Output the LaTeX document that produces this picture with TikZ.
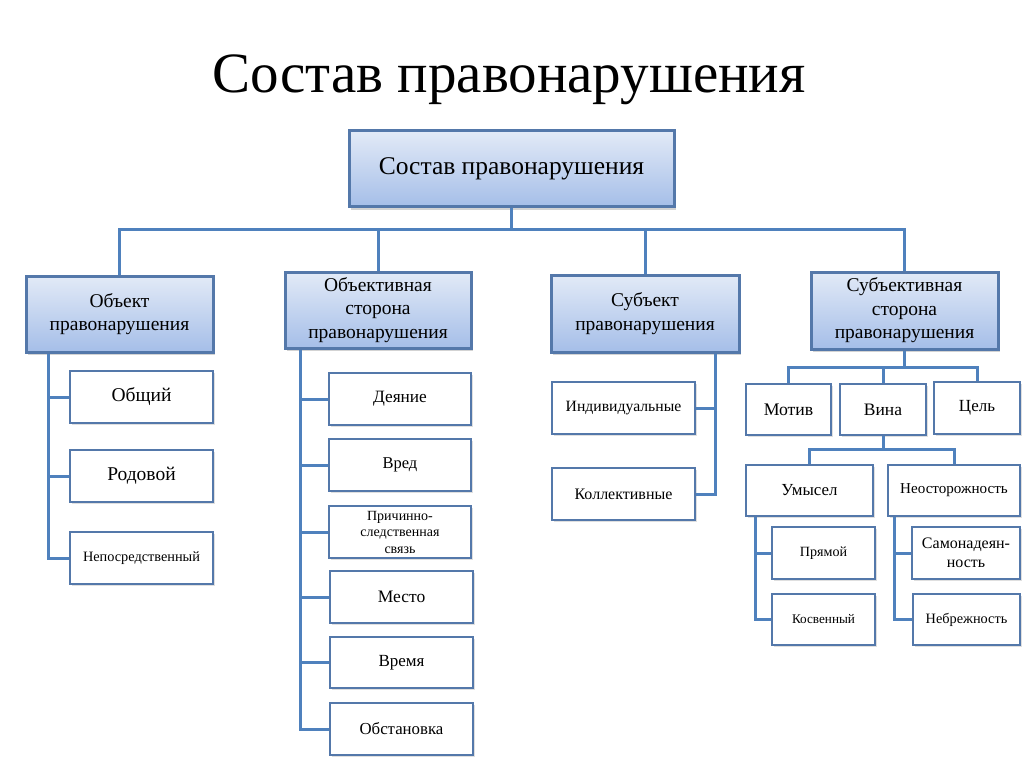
\documentclass[tikz,border=0pt]{standalone}
\usepackage{fontspec}
\setmainfont{Liberation Serif}
\usetikzlibrary{shadows,calc}
\definecolor{lineblue}{RGB}{79,129,189}
\definecolor{boxborder}{RGB}{84,120,170}
\definecolor{gtop}{RGB}{226,234,247}
\definecolor{gbot}{RGB}{165,190,232}
\begin{document}
\begin{tikzpicture}[x=1pt,y=-1pt,
  conn/.style={draw=lineblue,line width=3pt},
  lvlbox/.style={draw=boxborder,line width=3pt,top color=gtop,bottom color=gbot,
    align=center,inner sep=2pt,font=\fontsize{19.5}{23.5}\selectfont,
    drop shadow={opacity=0.35,shadow xshift=2pt,shadow yshift=-3pt}},
  leaf/.style={draw=boxborder,line width=2.5pt,fill=white,align=center,inner sep=2pt,
    drop shadow={opacity=0.25,shadow xshift=2pt,shadow yshift=-2pt}},
]
\useasboundingbox (0,0) rectangle (1024,767);
% title
\node[font=\fontsize{57}{60}\selectfont] (title) at (509,80) {Состав правонарушения};
% root
\node[lvlbox,minimum width=325,minimum height=76,font=\fontsize{25.5}{28}\selectfont] (root) at (511.5,169) {Состав правонарушения};
% level 1
\node[lvlbox,minimum width=187,minimum height=76] (obj) at (119.5,314) {Объект\\правонарушения};
\node[lvlbox,minimum width=186,minimum height=76] (oside) at (378,310) {Объективная\\сторона\\правонарушения};
\node[lvlbox,minimum width=188,minimum height=77] (subj) at (645,313.5) {Субъект\\правонарушения};
\node[lvlbox,minimum width=187,minimum height=77] (sside) at (904.5,310.5) {Субъективная\\сторона\\правонарушения};
% bus
\coordinate (bus) at (512,230);
\draw[conn] (root.south) -- (root.south |- bus);
\draw[conn] (obj.north) -- (obj.north |- bus) -- (sside.north |- bus) -- (sside.north);
\draw[conn] (oside.north) -- (oside.north |- bus);
\draw[conn] (subj.north) -- (subj.north |- bus);
% object children
\node[leaf,minimum width=143,minimum height=52,font=\fontsize{19.5}{22}\selectfont] (obsh) at (141.5,397) {Общий};
\node[leaf,minimum width=143,minimum height=52,font=\fontsize{19.5}{22}\selectfont] (rod) at (141.5,476) {Родовой};
\node[leaf,minimum width=143,minimum height=52,font=\fontsize{14.3}{16}\selectfont] (nep) at (141.5,558) {Непосредственный};
\draw[conn] ([xshift=24pt]obj.south west) |- (nep.west);
\draw[conn] ([xshift=24pt]obj.south west) |- (obsh.west);
\draw[conn] ([xshift=24pt]obj.south west) |- (rod.west);
% objective side children
\node[leaf,minimum width=142,minimum height=52,font=\fontsize{17.3}{20}\selectfont] (deyan) at (400,399) {Деяние};
\node[leaf,minimum width=142,minimum height=52,font=\fontsize{16.5}{19}\selectfont] (vred) at (400,465) {Вред};
\node[leaf,minimum width=142,minimum height=52,font=\fontsize{14}{16.5}\selectfont] (prich) at (400,532) {Причинно-\\следственная\\связь};
\node[leaf,minimum width=143,minimum height=52,font=\fontsize{17.5}{20}\selectfont] (mesto) at (401.5,597) {Место};
\node[leaf,minimum width=143,minimum height=51,font=\fontsize{17}{20}\selectfont] (vremya) at (401.5,662.5) {Время};
\node[leaf,minimum width=143,minimum height=52,font=\fontsize{16.8}{20}\selectfont] (obst) at (401.5,729) {Обстановка};
\coordinate (otr) at ([xshift=17pt]oside.south west);
\draw[conn] (otr) |- (obst.west);
\foreach \n in {deyan,vred,prich,mesto,vremya} \draw[conn] (otr) |- (\n.west);
% subject children
\node[leaf,minimum width=143,minimum height=52,font=\fontsize{15.7}{18}\selectfont] (ind) at (623.5,408) {Индивидуальные};
\node[leaf,minimum width=143,minimum height=52,font=\fontsize{16}{18}\selectfont] (kol) at (623.5,494) {Коллективные};
\coordinate (str) at ([xshift=-25pt]subj.south east);
\draw[conn] (str) |- (kol.east);
\draw[conn] (str) |- (ind.east);
% subjective side children
\node[leaf,minimum width=85,minimum height=51,font=\fontsize{17.7}{20}\selectfont] (motiv) at (788.5,409.5) {Мотив};
\node[leaf,minimum width=86,minimum height=51,font=\fontsize{17.5}{20}\selectfont] (vina) at (883,409.5) {Вина};
\node[leaf,minimum width=86,minimum height=52,font=\fontsize{17}{20}\selectfont] (cel) at (977,408) {Цель};
\coordinate (b2) at (905,367);
\draw[conn] (sside.south) -- (sside.south |- b2);
\draw[conn] (motiv.north) |- (b2) -| (cel.north);
\draw[conn] (vina.north) -- (vina.north |- b2);
\node[leaf,minimum width=127,minimum height=51,font=\fontsize{16.9}{19}\selectfont] (umys) at (809.5,490.5) {Умысел};
\node[leaf,minimum width=132,minimum height=51,font=\fontsize{15.1}{17}\selectfont] (neost) at (954,490.5) {Неосторожность};
\coordinate (b3) at (883,449);
\draw[conn] (vina.south) -- (vina.south |- b3);
\draw[conn] (umys.north) |- (b3) -| (neost.north);
\node[leaf,minimum width=103,minimum height=52,font=\fontsize{14.1}{16}\selectfont] (pryam) at (823.5,553) {Прямой};
\node[leaf,minimum width=103,minimum height=51,font=\fontsize{13.2}{16}\selectfont] (kosv) at (823.5,619.5) {Косвенный};
\coordinate (utr) at ([xshift=11pt]umys.south west);
\draw[conn] (utr) |- (kosv.west);
\draw[conn] (utr) |- (pryam.west);
\node[leaf,minimum width=108,minimum height=52,font=\fontsize{16}{18.5}\selectfont] (samon) at (966,553) {Самонадеян-\\ность};
\node[leaf,minimum width=107,minimum height=51,font=\fontsize{14.3}{17}\selectfont] (nebr) at (966.5,619.5) {Небрежность};
\coordinate (ntr) at ([xshift=8pt]neost.south west);
\draw[conn] (ntr) |- (nebr.west);
\draw[conn] (ntr) |- (samon.west);
\end{tikzpicture}
\end{document}
